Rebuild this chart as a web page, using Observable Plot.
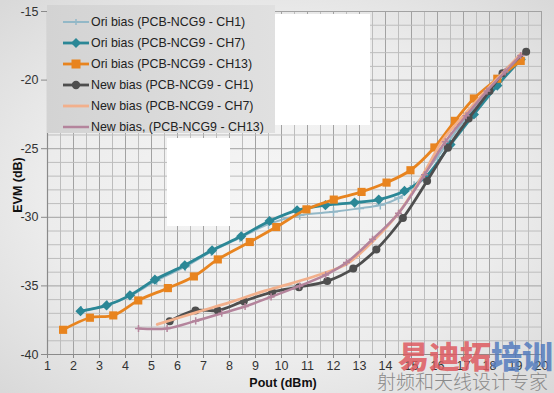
<!DOCTYPE html>
<html><head><meta charset="utf-8">
<script src="https://cdn.jsdelivr.net/npm/d3@7"></script>
<script src="https://cdn.jsdelivr.net/npm/@observablehq/plot@0.6"></script>
<style>
html,body{margin:0;padding:0;}
body{width:554px;height:393px;overflow:hidden;position:relative;
  background:radial-gradient(ellipse 70% 70% at 50% 50%,#f6f6f6 0%,#ececec 60%,#d9d9d9 100%);
  font-family:"Liberation Sans",Arial,sans-serif;}
#chart{position:absolute;left:0;top:0;}
#legend{position:absolute;left:47px;top:5px;width:228px;height:128px;
  background:linear-gradient(90deg,#d3d3d3,#e0e0e0);box-sizing:border-box;padding-top:6px;}
.item{height:21px;display:flex;align-items:center;font-size:12.4px;color:#222;white-space:nowrap;}
.item svg{margin-left:16px;margin-right:2px;}
.blank{position:absolute;background:#fff;}
.title{position:absolute;font-weight:bold;font-size:12.5px;color:#111;}
#ytitle{left:18px;top:185px;transform:translate(-50%,-50%) rotate(-90deg);white-space:nowrap;}
#xtitle{left:283px;top:383px;transform:translate(-50%,-50%);white-space:nowrap;}
#wm1{position:absolute;left:398px;top:336px;font-family:"Noto Sans CJK SC";font-weight:900;font-size:31px;line-height:38px;white-space:nowrap;}
#wm2{position:absolute;left:377px;top:370px;font-family:"Noto Sans CJK SC";font-weight:300;font-size:19px;line-height:21px;color:#8a8a8a;white-space:nowrap;}
</style></head>
<body>
<div id="chart"></div>
<div class="blank" style="left:275px;top:14px;width:95px;height:111px"></div>
<div class="blank" style="left:167px;top:138px;width:63px;height:88px"></div>
<div id="legend"></div>
<div class="title" id="ytitle">EVM (dB)</div>
<div class="title" id="xtitle">Pout (dBm)</div>
<div id="wm1"><span style="color:rgba(222,90,96,0.85)">易迪拓</span><span style="color:rgba(84,124,190,0.85)">培训</span></div>
<div id="wm2">射频和天线设计专家</div>
<script>
// ---- data ----
const seriesNames = [
  "Ori bias (PCB-NCG9 - CH1)",
  "Ori bias (PCB-NCG9 - CH7)",
  "Ori bias (PCB-NCG9 - CH13)",
  "New bias (PCB-NCG9 - CH1)",
  "New bias (PCB-NCG9 - CH7)",
  "New bias, (PCB-NCG9 - CH13)"
];
const xTickLabels = [1,2,3,4,5,6,7,8,9,10,11,12,13,14,15,16,17,18,19,20];
const yTickLabels = [-40,-35,-30,-25,-20,-15];

const oriCH1_x = [2.3,3.3,4.2,5.2,6.3,7.3,8.4,9.5,10.7,12.0,13.0,13.8,14.5,15.1,16.0,16.8,17.6,18.4,19.2];
const oriCH1_y = [-36.8,-36.4,-35.7,-34.6,-33.6,-32.5,-31.5,-30.5,-29.85,-29.6,-29.35,-29.1,-28.6,-27.7,-25.6,-23.5,-21.6,-19.8,-18.4];

const oriCH7_x = [2.27,3.27,4.17,5.13,6.28,7.33,8.45,9.54,10.6,11.69,12.81,13.74,14.73,15.54,16.5,17.4,18.3,19.2];
const oriCH7_y = [-36.84,-36.42,-35.69,-34.55,-33.5,-32.41,-31.39,-30.27,-29.49,-29.12,-28.93,-28.71,-28.08,-27.06,-24.7,-22.5,-20.4,-18.5];

const oriCH13_x = [1.6,2.63,3.53,4.49,5.63,6.63,7.55,8.78,9.8,10.96,12.01,13.08,14.04,14.96,15.88,16.67,17.4,18.3,19.2];
const oriCH13_y = [-38.2,-37.32,-37.15,-36.06,-35.16,-34.31,-33.07,-31.8,-30.71,-29.42,-28.71,-28.15,-27.47,-26.57,-24.91,-22.97,-21.34,-19.9,-18.6];

const newCH1_x = [5.7,6.69,7.55,8.55,9.64,10.67,11.76,12.76,13.65,14.67,15.6,16.4,17.2,18.0,18.5,19.41];
const newCH1_y = [-37.57,-36.79,-36.79,-36.11,-35.45,-35.09,-34.65,-33.74,-32.34,-30.05,-27.35,-24.93,-22.8,-20.8,-19.5,-17.93];

const newCH7_x = [5.22,6.76,8.04,9.32,10.35,11.76,12.53,13.55,14.58,15.47,16.2,17.0,17.8,18.5,19.2];
const newCH7_y = [-37.81,-36.91,-36.18,-35.38,-34.84,-33.99,-33.38,-31.68,-29.49,-26.81,-24.38,-22.6,-20.9,-19.5,-18.1];

const newCH13_x = [4.5,5.6,6.7,7.7,8.6,9.6,10.7,11.7,12.5,13.5,14.5,15.5,16.3,17.1,17.9,18.6,19.2];
const newCH13_y = [-38.1,-38.1,-37.55,-37.0,-36.5,-35.8,-35.0,-34.2,-33.3,-31.6,-29.7,-26.9,-24.5,-22.6,-20.8,-19.4,-18.2];

// ---- styles ----
const styles = [
  {color:"#93b8c7", w:2,   symbol:"plus",     r:3,   legendSymbol:"plus"},
  {color:"#2b8796", w:2.8, symbol:"diamond2", r:4.6, legendSymbol:"diamond2"},
  {color:"#e8841f", w:2.8, symbol:"square",   r:4.6, legendSymbol:"square"},
  {color:"#4e4e4e", w:2.8, symbol:"circle",   r:4,   legendSymbol:"circle"},
  {color:"#f2b08c", w:2.8, symbol:null,       r:0,   legendSymbol:null},
  {color:"#b4849c", w:2.5, symbol:"plus",     r:2.4, legendSymbol:null}
];

const xs = [oriCH1_x, oriCH7_x, oriCH13_x, newCH1_x, newCH7_x, newCH13_x];
const ys = [oriCH1_y, oriCH7_y, oriCH13_y, newCH1_y, newCH7_y, newCH13_y];

const rows = [];
xs.forEach((arr, i) => arr.forEach((x, j) => rows.push({s: i, x, y: ys[i][j]})));

const gridX = d3.range(1, 20.001, 0.5);
const gridY = d3.range(-40, -14.999, 1);

const marks = [
  Plot.ruleX(gridX, {stroke: d => Number.isInteger(d) ? "#a2a2a2" : "#bdbdbd", strokeWidth: 1}),
  Plot.ruleY(gridY, {stroke: d => d % 5 === 0 ? "#a2a2a2" : "#bdbdbd", strokeWidth: 1}),
  Plot.ruleX([1], {stroke: "#8a8a8a", strokeWidth: 1.2}),
  Plot.ruleY([-40], {stroke: "#8a8a8a", strokeWidth: 1.2}),
  Plot.axisX(xTickLabels, {tickSize: 4, tickPadding: 3, label: null, stroke: "#8a8a8a", tickFormat: d => String(d)}),
  Plot.axisY(yTickLabels, {tickSize: 6, tickPadding: 3, label: null, stroke: "#8a8a8a", tickFormat: d => String(d)})
];
styles.forEach((st, i) => {
  const d = rows.filter(r => r.s === i);
  marks.push(Plot.line(d, {x: "x", y: "y", stroke: st.color, strokeWidth: st.w, curve: "catmull-rom", strokeLinejoin: "round"}));
  if (st.symbol) {
    const stroked = st.symbol === "plus";
    marks.push(Plot.dot(d, {x: "x", y: "y", symbol: st.symbol, r: st.r,
      fill: stroked ? "none" : st.color, stroke: stroked ? st.color : "none", strokeWidth: 1.5}));
  }
});

const chart = Plot.plot({
  width: 554, height: 393,
  marginLeft: 47, marginRight: 13, marginTop: 11, marginBottom: 39,
  x: {domain: [1, 20]},
  y: {domain: [-40, -15]},
  style: {background: "transparent", fontFamily: "'Liberation Sans', Arial, sans-serif", fontSize: "12.5px", color: "#333"},
  marks
});
document.getElementById("chart").appendChild(chart);

// legend
const legend = document.getElementById("legend");
seriesNames.forEach((name, i) => {
  const st = styles[i];
  const item = document.createElement("div");
  item.className = "item";
  let sym = "";
  const cx = 13, cy = 7;
  if (st.legendSymbol === "plus") sym = `<path d="M${cx-3},${cy}H${cx+3}M${cx},${cy-3}V${cy+3}" stroke="${st.color}" stroke-width="1.5"/>`;
  if (st.legendSymbol === "diamond2") sym = `<path d="M${cx},${cy-5}L${cx+5},${cy}L${cx},${cy+5}L${cx-5},${cy}Z" fill="${st.color}"/>`;
  if (st.legendSymbol === "square") sym = `<rect x="${cx-4.5}" y="${cy-4.5}" width="9" height="9" fill="${st.color}"/>`;
  if (st.legendSymbol === "circle") sym = `<circle cx="${cx}" cy="${cy}" r="4.2" fill="${st.color}"/>`;
  item.innerHTML = `<svg width="26" height="14"><line x1="0" y1="${cy}" x2="26" y2="${cy}" stroke="${st.color}" stroke-width="${st.w}"/>${sym}</svg><span>${name}</span>`;
  legend.appendChild(item);
});
</script>
</body></html>
